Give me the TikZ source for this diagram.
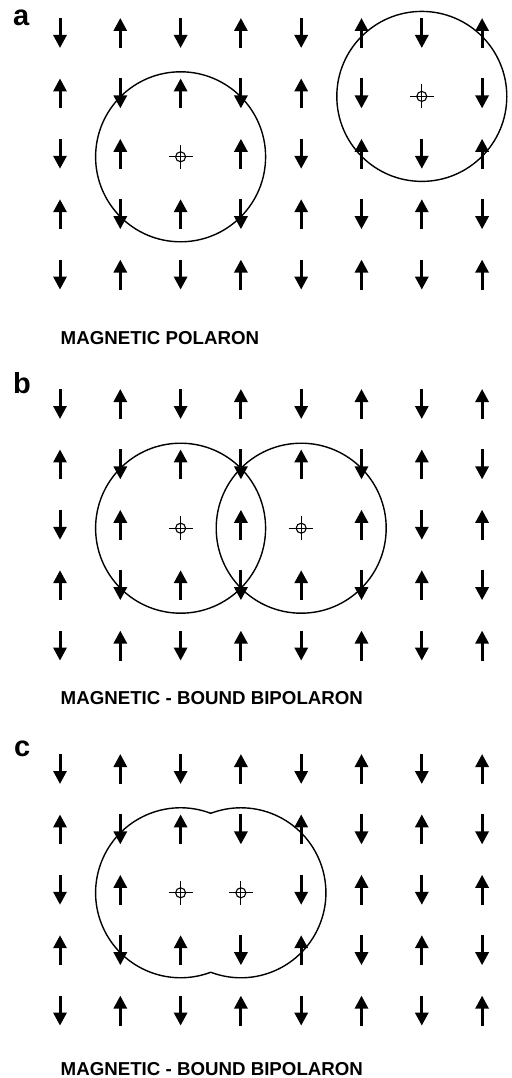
\documentclass[tikz,border=0pt]{standalone}
\usepackage{fontspec}
\setmainfont{Liberation Sans}
\usetikzlibrary{arrows.meta}

% one panel of the antiferromagnetic lattice, #1 = y of first row,
% #2 and #3 = sites (column-row) left free for the carriers
\newcommand{\spinlattice}[3]{%
  \foreach \i in {1,...,8}{%
    \foreach \j in {1,...,5}{%
      \edef\site{\i-\j}%
      \def\skipA{#2}\def\skipB{#3}%
      \ifx\site\skipA\else\ifx\site\skipB\else
        \pgfmathsetmacro\sx{60+60.3*(\i-1)}%
        \pgfmathsetmacro\sy{#1+60.4*(\j-1)}%
        \pgfmathtruncatemacro\parity{mod(\i+\j,2)}%
        \ifnum\parity=0
          \draw[spinStyle] (\sx,\sy-15) -- (\sx,\sy+15);
        \else
          \draw[spinStyle] (\sx,\sy+15) -- (\sx,\sy-15);
        \fi
      \fi\fi
    }%
  }%
}

% carrier marker: small ring with a cross
\newcommand{\polaroncore}[3]{%
  \coordinate (#1) at (#2,#3);
  \draw[coreStyle] (#1) circle[radius=5pt];
  \draw[coreStyle] ([xshift=-12pt]#1) -- ([xshift=12pt]#1);
  \draw[coreStyle] ([yshift=-12pt]#1) -- ([yshift=12pt]#1);
}

\begin{document}
\begin{tikzpicture}[
    x=1pt, y=-1pt,
    spinStyle/.style={line width=3pt, -{Triangle[width=13pt,length=13pt]}},
    polaronStyle/.style={line width=1.4pt},
    coreStyle/.style={line width=1.1pt},
    labelStyle/.style={anchor=base west, inner sep=0pt, font=\fontsize{29}{30}\selectfont\bfseries},
    captionStyle/.style={anchor=base west, inner sep=0pt, font=\fontsize{18.7}{20}\selectfont\bfseries},
    ]
    \useasboundingbox (0,0) rectangle (511,1078);

    % panel a
    \node[labelStyle] (labelA) at (13,26) {a};
    \spinlattice{33}{7-2}{3-3}
    \polaroncore{coreA1}{180.6}{156.8}
    \polaroncore{coreA2}{421.8}{96.4}
    \draw[polaronStyle] (coreA1) circle[radius=85pt];
    \draw[polaronStyle] (coreA2) circle[radius=85pt];
    \node[captionStyle] (captionA) at (60.5,344) {MAGNETIC POLARON};

    % panel b
    \node[labelStyle] (labelB) at (13,393) {b};
    \spinlattice{404}{3-3}{5-3}
    \polaroncore{coreB1}{180.6}{528.2}
    \polaroncore{coreB2}{301.2}{528.2}
    \draw[polaronStyle] (coreB1) circle[radius=85pt];
    \draw[polaronStyle] (coreB2) circle[radius=85pt];
    \node[captionStyle] (captionB) at (60.5,704) {MAGNETIC - BOUND BIPOLARON};

    % panel c
    \node[labelStyle] (labelC) at (14,756.5) {c};
    \spinlattice{769}{3-3}{4-3}
    \polaroncore{coreC1}{180.6}{892.8}
    \polaroncore{coreC2}{240.9}{892.8}
    \draw[polaronStyle] (210.75,813.3)
        arc[start angle=69.22, end angle=290.78, radius=85pt]
        arc[start angle=249.22, end angle=470.78, radius=85pt] -- cycle;
    \node[captionStyle] (captionC) at (60.5,1075) {MAGNETIC - BOUND BIPOLARON};
\end{tikzpicture}
\end{document}
